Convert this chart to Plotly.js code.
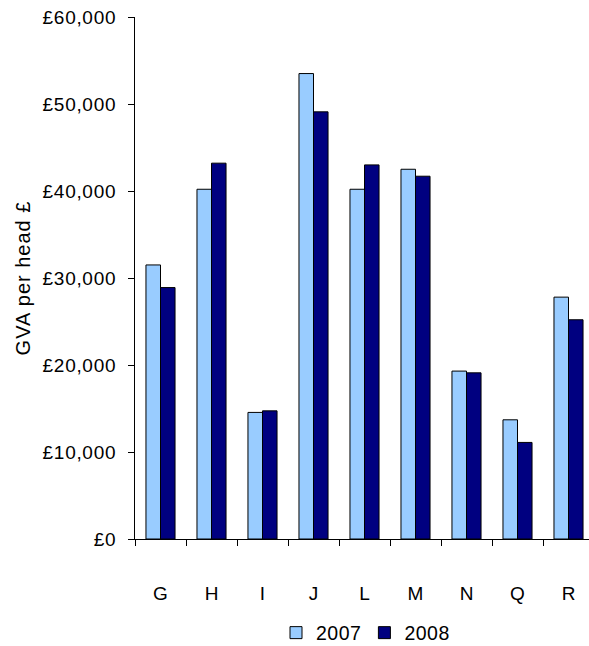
<!DOCTYPE html>
<html>
<head>
<meta charset="utf-8">
<script src="https://cdn.plot.ly/plotly-3.0.1.min.js"></script>
<style>
html, body { margin:0; padding:0; overflow:hidden; background:#fff; width:589px; height:646px; }
#chart { width:594px; height:646px; }
#chart .ytitle { letter-spacing: 1px; }
#chart .ytick text { letter-spacing: 0.7px; }
#chart .legendtext { letter-spacing: 0.5px; }
</style>
</head>
<body>
<div id="chart"></div>
<script>
const categories = ["G","H","I","J","L","M","N","Q","R"];
const values2007 = [31500, 40200, 14550, 53500, 40200, 42500, 19300, 13700, 27800];
const values2008 = [28900, 43200, 14730, 49100, 43000, 41700, 19100, 11100, 25200];
const seriesNames = ["2007", "2008"];

const fam = "Liberation Sans, Arial, sans-serif";
const font = {family: fam, size: 19, color: "#000"};

const traces = [
  {type:"bar", name: seriesNames[0], x: categories, y: values2007,
   marker:{color:"#99CCFF", line:{color:"#000", width:1}}},
  {type:"bar", name: seriesNames[1], x: categories, y: values2008,
   marker:{color:"#000080", line:{color:"#000", width:1}}}
];

const layout = {
  width: 594, height: 646,
  margin: {l:135, r:0, t:17, b:107, autoexpand:false},
  paper_bgcolor:"#fff", plot_bgcolor:"#fff",
  font: font,
  barmode: "group",
  bargap: 0.43,
  bargroupgap: 0,
  showlegend: true,
  legend: {orientation:"h", x:0.5, xanchor:"center", y:-0.18, yanchor:"middle",
           font: {family: fam, size: 19.5, color:"#000"}, itemwidth:30, traceorder:"normal"},
  xaxis: {type:"category", showline:true, linecolor:"#000", linewidth:1,
          ticks:"outside", tickson:"boundaries", ticklen:6, tickcolor:"#000",
          ticklabelstandoff: 37, tickfont: font, showgrid:false, zeroline:false},
  yaxis: {range:[0,60000], dtick:10000, tick0:0, showline:true, linecolor:"#000", linewidth:1,
          ticks:"outside", ticklen:6, tickcolor:"#000", tickprefix:"£", tickformat:",d",
          ticklabelstandoff: 8,
          tickfont: font, showgrid:false, zeroline:false,
          title:{text:"GVA per head £", font: {family: fam, size: 20, color:"#000"}, standoff: 11}}
};

Plotly.newPlot("chart", traces, layout, {displayModeBar:false, staticPlot:true});
</script>
</body>
</html>
